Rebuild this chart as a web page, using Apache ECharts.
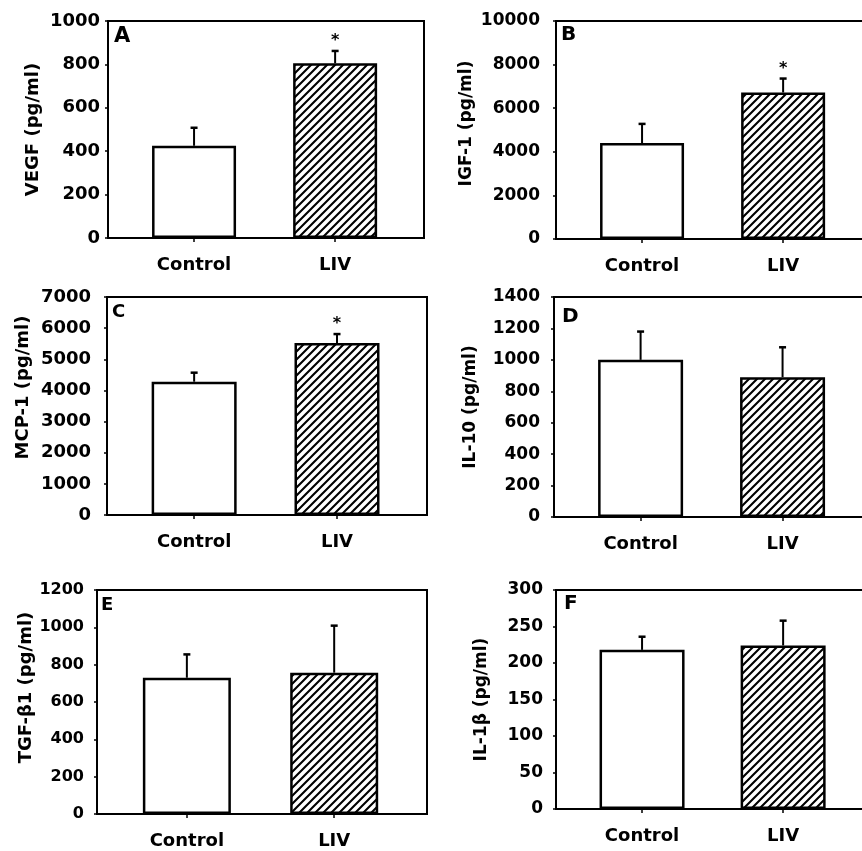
<!DOCTYPE html>
<html><head><meta charset="utf-8">
<script src="https://cdn.jsdelivr.net/npm/echarts@6/dist/echarts.min.js"></script>
<style>html,body{margin:0;padding:0;background:#fff;overflow:hidden}#c{width:862px;height:851px}</style>
</head><body><div id="c"></div>
<script>
// ---- data ----
const categories = ['Control', 'LIV'];
const panelLetters = ['A', 'B', 'C', 'D', 'E', 'F'];
const yNames = ['VEGF (pg/ml)', 'IGF-1 (pg/ml)', 'MCP-1 (pg/ml)', 'IL-10 (pg/ml)', 'TGF-\u03b21 (pg/ml)', 'IL-1\u03b2 (pg/ml)'];
const yMax = [1000, 10000, 7000, 1400, 1200, 300];
const yStep = [200, 2000, 1000, 200, 200, 50];
const meanVEGF = [425, 805];   const errVEGF = [83, 57];
const meanIGF1 = [4400, 6720]; const errIGF1 = [880, 640];
const meanMCP1 = [4280, 5520]; const errMCP1 = [290, 290];
const meanIL10 = [1000, 890];  const errIL10 = [180, 190];
const meanTGFb1 = [730, 757];  const errTGFb1 = [125, 252];
const meanIL1b = [218, 224];   const errIL1b = [18, 34];
const sigVEGF = [0, 1], sigIGF1 = [0, 1], sigMCP1 = [0, 1], sigIL10 = [0, 0], sigTGFb1 = [0, 0], sigIL1b = [0, 0];

const means = [meanVEGF, meanIGF1, meanMCP1, meanIL10, meanTGFb1, meanIL1b];
const errs = [errVEGF, errIGF1, errMCP1, errIL10, errTGFb1, errIL1b];
const sigs = [sigVEGF, sigIGF1, sigMCP1, sigIL10, sigTGFb1, sigIL1b];

// ---- layout (positions / sizes) ----
const layout = [
  {left:108, top:21,  width:316, height:217, lblMargin:8,  yFont:18, nameFont:18, nameGap:66, nameShift:0,  barW:84, lx:114, ly:26,  lf:21},
  {left:556, top:21,  width:316, height:218, lblMargin:16, yFont:17, nameFont:17, nameGap:81, nameShift:13, barW:84, lx:561, ly:25,  lf:20},
  {left:107, top:297, width:320, height:218, lblMargin:16, yFont:18, nameFont:18, nameGap:75, nameShift:37, barW:85, lx:112, ly:303, lf:18},
  {left:554, top:297, width:318, height:220, lblMargin:14, yFont:17, nameFont:17, nameGap:75, nameShift:0,  barW:85, lx:562, ly:307, lf:20},
  {left:97,  top:590, width:330, height:224, lblMargin:13, yFont:16, nameFont:18, nameGap:62, nameShift:29, barW:88, lx:101, ly:596, lf:18},
  {left:556, top:590, width:316, height:219, lblMargin:13, yFont:17, nameFont:17, nameGap:66, nameShift:0,  barW:85, lx:564, ly:594, lf:20}
];
const FONT = '"DejaVu Sans", Arial, sans-serif';

// hatch pattern
function makeHatch() {
  const s = 8;
  const cv = document.createElement('canvas');
  cv.width = s; cv.height = s;
  const ctx = cv.getContext('2d');
  ctx.fillStyle = '#fff'; ctx.fillRect(0, 0, s, s);
  ctx.strokeStyle = '#000'; ctx.lineWidth = 2.1;
  ctx.beginPath();
  ctx.moveTo(-1, s + 1); ctx.lineTo(s + 1, -1);
  ctx.moveTo(-2, 2); ctx.lineTo(2, -2);
  ctx.moveTo(s - 2, s + 2); ctx.lineTo(s + 2, s - 2);
  ctx.stroke();
  return cv;
}
const hatch = makeHatch();

const grids = [], xAxes = [], yAxes = [], series = [], titles = [];
layout.forEach((L, i) => {
  grids.push({left: L.left, top: L.top, width: L.width, height: L.height, show: true,
    borderColor: '#000', borderWidth: 2, backgroundColor: 'transparent',
    containLabel: false, outerBoundsMode: 'none'});
  xAxes.push({type: 'value', gridIndex: i, min: 0.39, max: 2.63,
    axisLine: {show: true, onZero: false, lineStyle: {color: '#000', width: 2}},
    axisTick: {show: true, customValues: [1, 2], length: 4, lineStyle: {color: '#000', width: 1.5}},
    axisLabel: {show: true, customValues: [1, 2], margin: 18, color: '#000', fontWeight: 'bold', fontSize: 18, fontFamily: FONT,
      formatter: v => categories[Math.round(v) - 1] || ''},
    splitLine: {show: false}});
  yAxes.push({type: 'value', gridIndex: i, min: 0, max: yMax[i], interval: yStep[i],
    name: yNames[i], nameLocation: 'middle', nameGap: L.nameGap,
    nameTextStyle: {color: '#000', fontWeight: 'bold', fontSize: L.nameFont, fontFamily: FONT, padding: [0, 0, 0, L.nameShift]},
    axisLine: {show: true, lineStyle: {color: '#000', width: 2}},
    axisTick: {show: true, length: 3, lineStyle: {color: '#000', width: 1.5}},
    axisLabel: {margin: L.lblMargin, color: '#000', fontWeight: 'bold', fontSize: L.yFont, fontFamily: FONT,
      formatter: v => String(v)},
    splitLine: {show: false}});
  series.push({type: 'bar', xAxisIndex: i, yAxisIndex: i, barWidth: L.barW, z: 2,
    data: means[i].map((m, j) => ({value: [j + 1, m],
      itemStyle: {color: j === 0 ? '#fff' : {image: hatch, repeat: 'repeat'}, borderColor: '#000', borderWidth: 2.5}})),
    silent: true});
  series.push({type: 'custom', xAxisIndex: i, yAxisIndex: i, z: 3, silent: true,
    data: means[i].map((m, j) => [j + 1, m, errs[i][j], sigs[i][j]]),
    renderItem: function (params, api) {
      const x = api.value(0), m = api.value(1), e = api.value(2), s = api.value(3);
      const p0 = api.coord([x, m]), p1 = api.coord([x, m + e]);
      const ch = [
        {type: 'line', shape: {x1: p0[0], y1: p0[1], x2: p1[0], y2: p1[1]}, style: {stroke: '#000', lineWidth: 2}},
        {type: 'line', shape: {x1: p1[0] - 3.5, y1: p1[1], x2: p1[0] + 3.5, y2: p1[1]}, style: {stroke: '#000', lineWidth: 2.5}}
      ];
      if (s) ch.push({type: 'text', x: p1[0], y: p1[1] - 10,
        style: {text: '*', fill: '#000', font: 'bold 16px ' + FONT, align: 'center', verticalAlign: 'middle'}});
      return {type: 'group', children: ch};
    }});
  titles.push({text: panelLetters[i], left: L.lx, top: L.ly, padding: 0,
    textStyle: {color: '#000', fontWeight: 'bold', fontSize: L.lf, fontFamily: FONT}});
});

const chart = echarts.init(document.getElementById('c'), null, {renderer: 'canvas'});
chart.setOption({animation: false, backgroundColor: '#fff', title: titles, grid: grids, xAxis: xAxes, yAxis: yAxes, series: series});
</script></body></html>
